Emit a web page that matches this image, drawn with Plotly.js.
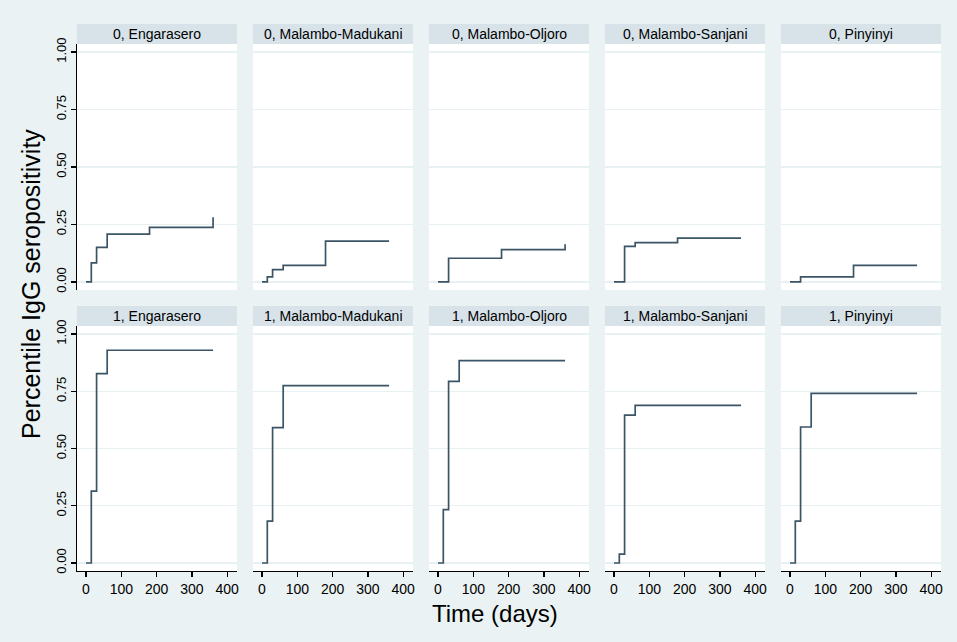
<!DOCTYPE html>
<html>
<head>
<meta charset="utf-8">
<script src="https://cdn.plot.ly/plotly-3.0.1.min.js"></script>
<style>
  html, body { margin: 0; padding: 0; background: #eaf2f3; }
  #chart { width: 957px; height: 642px; }
</style>
</head>
<body>
<div id="chart"></div>
<script>
// ###################### DATA ######################

// follow-up visits (days)
const days = [0, 15, 30, 60, 180, 360];

const sites = ["Engarasero", "Malambo-Madukani", "Malambo-Oljoro", "Malambo-Sanjani", "Pinyinyi"];

// group 0 : one row per site, value reached at each visit
const group0Values = [
    [0, 0.083, 0.150, 0.208, 0.237, 0.281],
    [0, 0.022, 0.054, 0.072, 0.178, 0.178],
    [0, 0.000, 0.103, 0.103, 0.141, 0.164],
    [0, 0.000, 0.155, 0.171, 0.191, 0.191],
    [0, 0.000, 0.022, 0.022, 0.072, 0.072],
];

// group 1
const group1Values = [
    [0, 0.314, 0.827, 0.929, 0.929, 0.929],
    [0, 0.183, 0.591, 0.775, 0.775, 0.775],
    [0, 0.233, 0.793, 0.884, 0.884, 0.884],
    [0, 0.039, 0.646, 0.688, 0.688, 0.688],
    [0, 0.183, 0.594, 0.741, 0.741, 0.741],
];

const groups = ["0", "1"];
const yTicks = [0, 0.25, 0.5, 0.75, 1];
const xTicks = [0, 100, 200, 300, 400];

// ###################### LAYOUT HELPERS ######################

const W = 957, H = 642;
const FONT = "Liberation Sans, Arial, sans-serif";
const LINE_COLOR = "#3b5566";
const STRIP_COLOR = "#d7e3e9";
const GRID_COLOR = "#e9f0f2";

// panel geometry in pixels
const colLeft = [77, 253, 429, 605, 781];
const panelWidth = 160;
const rowTop = [44, 326];      // top of white plot area
const rowBottom = [290, 571];  // bottom of white plot area
const stripHeight = 20;

const px = v => v / W;
const py = v => 1 - v / H;

function drawSeroGraph(){

    const data = [];
    const layout = {
        width: W,
        height: H,
        paper_bgcolor: "#eaf2f3",
        plot_bgcolor: "white",
        margin: { t: 0, b: 0, l: 0, r: 0 },
        showlegend: false,
        font: { family: FONT, color: "#000", size: 13 },
        shapes: [],
        annotations: [],
    };

    let n = 0;
    for (let row = 0; row < 2; row++){
        const values = row === 0 ? group0Values : group1Values;
        for (let col = 0; col < sites.length; col++){
            n++;
            const sfx = n === 1 ? "" : String(n);

            data.push({
                x: days,
                y: values[col],
                xaxis: "x" + sfx,
                yaxis: "y" + sfx,
                mode: "lines",
                line: { color: LINE_COLOR, width: 1.7, shape: "hv" },
                hoverinfo: "skip",
            });

            const isBottom = row === 1;
            const isFirstCol = col === 0;

            layout["xaxis" + sfx] = {
                domain: [px(colLeft[col]), px(colLeft[col] + panelWidth)],
                anchor: "y" + sfx,
                range: [-25.5, 427.8],
                tickvals: xTicks,
                showgrid: false,
                zeroline: false,
                showline: isBottom,
                linecolor: "#000",
                linewidth: 1.3,
                ticks: isBottom ? "outside" : "",
                ticklen: 5,
                tickwidth: 1.3,
                tickcolor: "#000",
                showticklabels: isBottom,
                tickfont: { size: 14, family: FONT, color: "#000" },
                fixedrange: true,
            };

            layout["yaxis" + sfx] = {
                domain: [py(rowBottom[row]), py(rowTop[row])],
                anchor: "x" + sfx,
                range: [-0.035, 1.035],
                tickvals: yTicks,
                tickformat: ".2f",
                tickangle: -90,
                showgrid: true,
                gridcolor: GRID_COLOR,
                gridwidth: 1.5,
                zeroline: false,
                showline: isFirstCol,
                linecolor: "#000",
                linewidth: 1.3,
                ticks: isFirstCol ? "outside" : "",
                ticklen: 5,
                tickwidth: 1.3,
                tickcolor: "#000",
                showticklabels: isFirstCol,
                tickfont: { size: 13, family: FONT, color: "#000" },
                fixedrange: true,
            };

            // facet strip with its label
            layout.shapes.push({
                type: "rect",
                xref: "paper", yref: "paper",
                x0: px(colLeft[col]), x1: px(colLeft[col] + panelWidth),
                y0: py(rowTop[row]), y1: py(rowTop[row] - stripHeight),
                fillcolor: STRIP_COLOR,
                line: { width: 0 },
                layer: "below",
            });
            layout.annotations.push({
                xref: "paper", yref: "paper",
                x: px(colLeft[col] + panelWidth / 2),
                y: py(rowTop[row] - stripHeight / 2),
                text: groups[row] + ", " + sites[col],
                showarrow: false,
                xanchor: "center", yanchor: "middle",
                font: { size: 14, family: FONT, color: "#000" },
            });
        }
    }

    // axis titles
    layout.annotations.push({
        xref: "paper", yref: "paper",
        x: px(31), y: py(284),
        text: "Percentile IgG seropositivity",
        textangle: -90,
        showarrow: false,
        xanchor: "center", yanchor: "middle",
        font: { size: 25, family: FONT, color: "#000" },
    });
    layout.annotations.push({
        xref: "paper", yref: "paper",
        x: px(495), y: py(613),
        text: "Time (days)",
        showarrow: false,
        xanchor: "center", yanchor: "middle",
        font: { size: 24, family: FONT, color: "#000" },
    });

    Plotly.newPlot("chart", data, layout, { staticPlot: true });
}

drawSeroGraph();
</script>
</body>
</html>
